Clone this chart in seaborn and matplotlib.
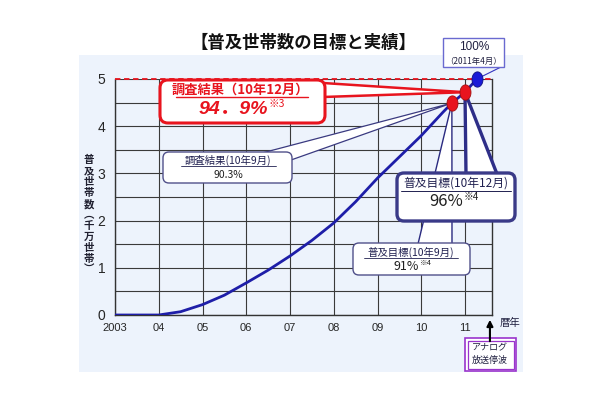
import numpy as np
import matplotlib
matplotlib.use("Agg")
import matplotlib.pyplot as plt
import seaborn as sns
import pandas as pd
from matplotlib.patches import FancyBboxPatch, Polygon, Rectangle
from matplotlib.transforms import Affine2D

# 普及世帯数の推移（千万世帯）
years = [2003, 2004, 2004.5, 2005, 2005.5, 2006, 2006.5, 2007, 2007.5,
         2008, 2008.5, 2009, 2009.5, 2010, 2010.5, 2010.7]
households = [0, 0, 0.07, 0.22, 0.42, 0.68, 0.95, 1.25, 1.58,
              1.95, 2.4, 2.9, 3.35, 3.8, 4.3, 4.49]

# 目標・実績の点（10年9月, 10年12月, 11年4月）
marker_years = [2010.7, 2011.0, 2011.27]
marker_values = [4.49, 4.72, 5.0]
marker_colors = ["#E8141E", "#E8141E", "#1A1AD8"]

x_ticks = [2003, 2004, 2005, 2006, 2007, 2008, 2009, 2010, 2011]
x_labels = ["2003", "04", "05", "06", "07", "08", "09", "10", "11"]
y_ticks = [0, 1, 2, 3, 4, 5]
shutdown_year = 2011.57

title = "【普及世帯数の目標と実績】"
ylabel_chars = list("普及世帯数︵千万世帯︶")

sns.set_style("white")
plt.rcParams['font.family'] = ['Noto Sans CJK JP', 'DejaVu Sans']

W, H = 610, 400
fig = plt.figure(figsize=(W / 100, H / 100), dpi=100)
ax = fig.add_axes([115 / W, 85 / H, 377 / W, 236 / H])
ax.set_facecolor("none")

# 画素座標（左上原点）用の変換
pxT = Affine2D().scale(1 / W, -1 / H).translate(0, 1) + fig.transFigure

# 背景パネル
fig.add_artist(Rectangle((79 / W, 28 / H), 444 / W, 317 / H, transform=fig.transFigure,
                         facecolor="#EDF3FC", edgecolor="none", zorder=-5))

df = pd.DataFrame({"year": years, "households": households})
sns.lineplot(data=df, x="year", y="households", ax=ax, color="#1E1EA8", lw=2, zorder=3)
ax.plot([years[-1]] + marker_years, [households[-1]] + marker_values,
        color="#1E1EA8", lw=2, zorder=3, clip_on=False)

ax.set_xlim(2003, 2003 + 377 / 43.75)
ax.set_ylim(0, 5)
ax.set_xticks(x_ticks)
ax.set_xticklabels(x_labels, fontsize=8, family=['Liberation Sans', 'DejaVu Sans'])
ax.set_yticks(y_ticks)
ax.set_yticklabels([str(v) for v in y_ticks], fontsize=10, family=['Liberation Sans', 'DejaVu Sans'])
ax.set_yticks(np.arange(0.5, 5, 1.0), minor=True)
ax.tick_params(axis="y", which="both", length=5, color="#333333", pad=2)
ax.tick_params(axis="x", length=3, color="#333333", pad=3)
ax.grid(True, which="both", axis="y", color="#3a3a3a", lw=0.8)
ax.grid(True, which="major", axis="x", color="#3a3a3a", lw=0.8)
ax.set_xlabel("")
ax.set_ylabel("")
for s in ["left", "bottom", "right"]:
    ax.spines[s].set_color("#333333")
    ax.spines[s].set_linewidth(1)
ax.spines["top"].set_visible(False)
ax.axhline(5, color="#E8141E", lw=1.3, ls=(0, (3, 2)), zorder=4, clip_on=False)

# 楕円マーカー
th = np.linspace(0, 2 * np.pi, 40)
ellipse = np.column_stack([0.72 * np.cos(th), np.sin(th)])


def to_px(xd, yd):
    dx, dy = ax.transData.transform((xd, yd))
    return dx, H - dy


tips = [to_px(x, y) for x, y in zip(marker_years, marker_values)]


def wedge(base, tip, edge, lw, face="white"):
    ax.add_patch(Polygon([base[0], tip, base[1]], closed=True, transform=pxT,
                         facecolor=face, edgecolor=edge, lw=lw, zorder=5,
                         clip_on=False, joinstyle="miter"))


def box(x0, y0, x1, y1, edge, lw, r=6, face="white"):
    ax.add_patch(FancyBboxPatch((x0, y0), x1 - x0, y1 - y0,
                                boxstyle=f"round,pad=0,rounding_size={r}",
                                transform=pxT, facecolor=face, edgecolor=edge,
                                lw=lw, zorder=6, clip_on=False))


def txt(x, y, s, **kw):
    kw.setdefault("ha", "center")
    kw.setdefault("va", "center")
    ax.text(x, y, s, transform=pxT, zorder=7, clip_on=False, **kw)


def underline(x0, x1, y, color, lw=0.8):
    ax.plot([x0, x1], [y, y], transform=pxT, color=color, lw=lw, zorder=7, clip_on=False)


# 調査結果（10年12月）
wedge([(323, 83), (323, 97)], tips[1], "#E8141E", 1.8)
box(160, 80, 325, 123, "#E8141E", 2.2, r=8)
txt(240, 90, "調査結果（10年12月）", color="#E8141E", fontsize=9.5, fontweight="bold")
underline(176, 308, 97, "#E8141E", 1.0)
txt(268, 110, "94．9%", ha="right", color="#E8141E", fontsize=14,
    fontweight="bold", style="italic", family=['Liberation Sans', 'Noto Sans CJK JP'])
txt(269, 104, "※3", ha="left", color="#E8141E", fontsize=7.5, style="italic")

# 調査結果（10年9月）
wedge([(262, 153), (291, 160)], tips[0], "#3A3A80", 0.9)
box(163, 152, 292, 183, "#50508A", 1.0, r=6)
txt(228, 160, "調査結果(10年9月)", color="#202050", fontsize=7.5)
underline(181, 276, 166, "#202050", 0.6)
txt(228, 175, "90.3%", color="#202020", fontsize=7.5)

# 普及目標（10年9月）
wedge([(418, 244), (452, 244)], tips[0], "#2A2A80", 1.0)
box(353, 243, 470, 275, "#50508A", 1.0, r=6)
txt(411, 252, "普及目標(10年9月)", color="#202050", fontsize=7.5)
underline(364, 458, 258, "#202050", 0.6)
txt(419, 266, "91%", ha="right", color="#202020", fontsize=9)
txt(420, 263, "※4", ha="left", color="#202020", fontsize=5.5)

# 普及目標（10年12月）
wedge([(466, 174), (497, 174)], tips[1], "#2E2E88", 2.4)
box(397, 173, 515, 221, "#3A3A88", 2.4, r=7)
txt(456, 183, "普及目標(10年12月)", color="#202050", fontsize=8.5)
underline(401, 511, 191, "#202050", 0.7)
txt(463, 201, "96%", ha="right", color="#202020", fontsize=12)
txt(464, 197, "※4", ha="left", color="#202020", fontsize=7)

# 100%（2011年4月）
ax.plot([tips[2][0], 503], [tips[2][1], 66], transform=pxT, color="#3333C0",
        lw=0.8, zorder=5, clip_on=False)
ax.add_patch(Rectangle((443, 38), 61, 29, transform=pxT, facecolor="white",
                       edgecolor="#6A6AD0", lw=1.0, zorder=6, clip_on=False))
txt(474, 47, "100%", color="#202040", fontsize=8.5, family=['Liberation Sans', 'DejaVu Sans'])
txt(474, 61, "（2011年4月）", color="#202040", fontsize=6)

# 点
for x, y, c in zip(marker_years, marker_values, marker_colors):
    ax.plot(x, y, marker=ellipse, ms=11, color=c, mec="#A01010" if c != "#1A1AD8" else "#101080",
            mew=0.6, zorder=8, clip_on=False, ls="none")

# アナログ放送停波
sx = to_px(shutdown_year, 0)[0]
ax.annotate("", xy=(sx, 317), xytext=(sx, 344), xycoords=pxT, textcoords=pxT,
            arrowprops=dict(arrowstyle="-|>", color="black", lw=1.5, mutation_scale=9),
            zorder=7, annotation_clip=False)
ax.add_patch(Rectangle((465, 338), 51, 33, transform=pxT, facecolor="white",
                       edgecolor="#9933CC", lw=1.2, zorder=6, clip_on=False))
ax.add_patch(Rectangle((467.5, 340.5), 46, 28, transform=pxT, facecolor="none",
                       edgecolor="#9933CC", lw=0.9, zorder=6, clip_on=False))
txt(490, 348, "アナログ", color="#202040", fontsize=6.5)
txt(490, 360, "放送停波", color="#202040", fontsize=6.5)
txt(510, 323, "暦年", color="#202040", fontsize=7.5)

# タイトル・軸ラベル
txt(303, 43, title, color="#111111", fontsize=12.5, fontweight="bold")
for i, ch in enumerate(ylabel_chars):
    txt(89, 160 + i * 11, ch, color="#202030", fontsize=7.5, fontweight="bold")

fig.savefig("out.png", dpi=100)
